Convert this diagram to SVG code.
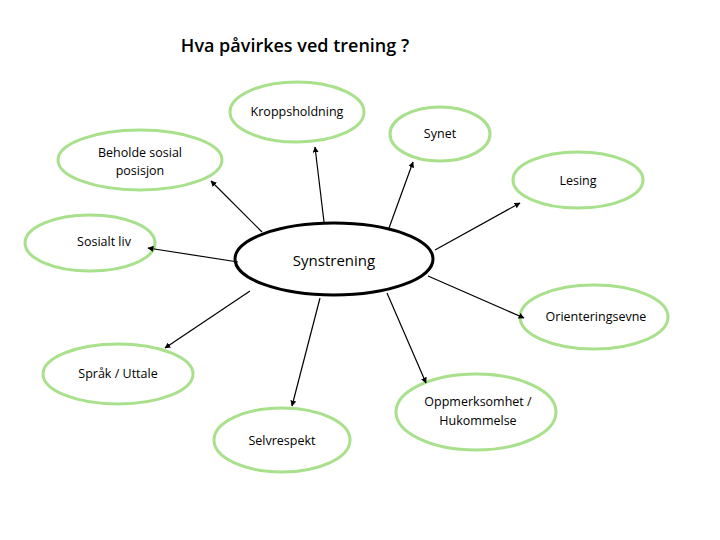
<svg xmlns="http://www.w3.org/2000/svg" width="720" height="540" viewBox="0 0 720 540">
<style>
.n{fill:#fff;stroke:#a8e08c;stroke-width:3}
.c{fill:#fff;stroke:#000;stroke-width:3}
text{font-family:"Open Sans","Liberation Sans",sans-serif;font-size:12.5px;fill:#000;text-anchor:middle}
.l{stroke:#000;stroke-width:1.2;fill:none;marker-end:url(#a)}
</style>
<defs><marker id="a" viewBox="0 0 10 10" refX="9" refY="5" markerWidth="5" markerHeight="5" orient="auto"><path d="M0,0L10,5L0,10z" fill="#000"/></marker></defs>
<rect width="720" height="540" fill="#fff"/>
<text x="295" y="52" style="font-size:18px;font-weight:600">Hva påvirkes ved trening ?</text>
<g id="kropp"><ellipse class="n" cx="297" cy="112" rx="67" ry="30"/><text x="297" y="116">Kroppsholdning</text></g>
<g id="synet"><ellipse class="n" cx="440" cy="134" rx="50" ry="27"/><text x="440" y="138">Synet</text></g>
<g id="beholde"><ellipse class="n" cx="140" cy="160" rx="82" ry="30"/><text x="140" y="157">Beholde sosial</text><text x="140" y="175">posisjon</text></g>
<g id="lesing"><ellipse class="n" cx="578" cy="180" rx="65" ry="28"/><text x="578" y="185">Lesing</text></g>
<g id="sosialt"><ellipse class="n" cx="90" cy="243" rx="65" ry="28"/><text x="104" y="246">Sosialt liv</text></g>
<g id="synstrening"><ellipse class="c" cx="334" cy="259" rx="99" ry="36"/><text x="334" y="266" style="font-size:15px">Synstrening</text></g>
<g id="orient"><ellipse class="n" cx="594" cy="317" rx="74" ry="32"/><text x="596" y="321">Orienteringsevne</text></g>
<g id="sprak"><ellipse class="n" cx="118" cy="374" rx="75" ry="30"/><text x="118" y="378">Språk / Uttale</text></g>
<g id="oppm"><ellipse class="n" cx="476" cy="412" rx="80" ry="38"/><text x="478" y="406">Oppmerksomhet /</text><text x="478" y="425">Hukommelse</text></g>
<g id="selv"><ellipse class="n" cx="282" cy="440" rx="68" ry="32"/><text x="282" y="445">Selvrespekt</text></g>
<g id="connectors">
<line class="l" x1="324" y1="222" x2="315" y2="147"/>
<line class="l" x1="389" y1="228" x2="413" y2="162"/>
<line class="l" x1="435" y1="250" x2="520" y2="203"/>
<line class="l" x1="262" y1="232" x2="211" y2="181"/>
<line class="l" x1="238" y1="262" x2="148" y2="248"/>
<line class="l" x1="428" y1="276" x2="524" y2="318"/>
<line class="l" x1="250" y1="291" x2="165" y2="348"/>
<line class="l" x1="320" y1="298" x2="292" y2="406"/>
<line class="l" x1="387" y1="293" x2="426" y2="383"/>
</g>
</svg>
